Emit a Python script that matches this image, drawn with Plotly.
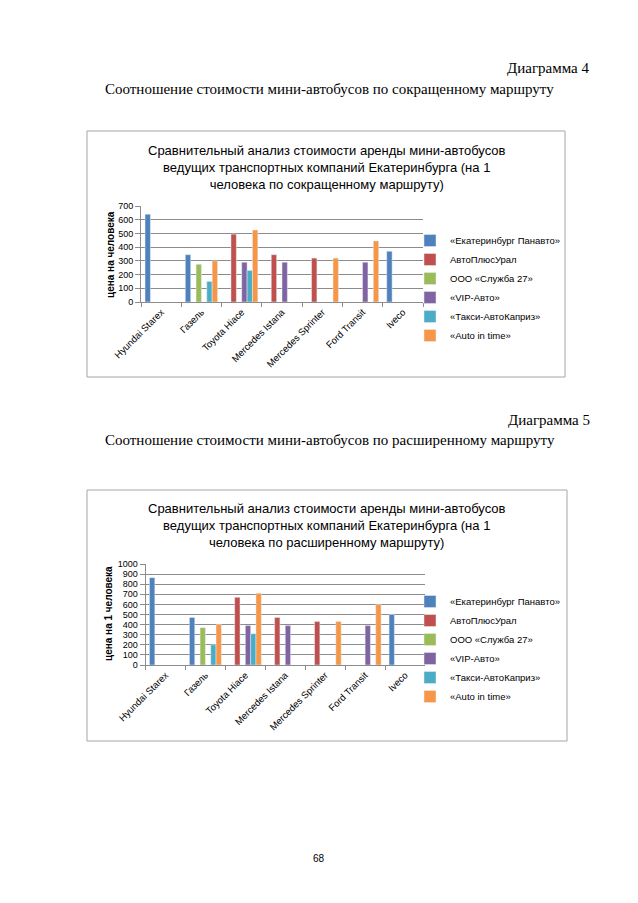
import plotly.graph_objects as go

# The page body has an 8px margin; the figure is sized so the page fits 638x903.
PAGE_W, PAGE_H = 638, 903
OFF = 8
W, H = PAGE_W - 2 * OFF, PAGE_H - 2 * OFF

categories = ["Hyundai Starex", "Газель", "Toyota Hiace", "Mercedes Istana",
              "Mercedes Sprinter", "Ford Transit", "Iveco"]
series_names = ["«Екатеринбург Панавто»", "АвтоПлюсУрал", "ООО «Служба 27»",
                "«VIP-Авто»", "«Такси-АвтоКаприз»", "«Auto in time»"]
colors = ["#4F81BD", "#C0504D", "#9BBB59", "#8064A2", "#4BACC6", "#F79646"]

# Diagram 4: short route
short_panavto = [640, 345, None, None, None, None, 370]
short_avtoplus = [None, None, 495, 345, 320, None, None]
short_sluzhba = [None, 275, None, None, None, None, None]
short_vip = [None, None, 290, 290, None, 290, None]
short_taxi = [None, 150, 230, None, None, None, None]
short_autointime = [None, 300, 525, None, 320, 445, None]

# Diagram 5: extended route
ext_panavto = [865, 470, None, None, None, None, 500]
ext_avtoplus = [None, None, 670, 470, 430, None, None]
ext_sluzhba = [None, 370, None, None, None, None, None]
ext_vip = [None, None, 390, 390, None, 390, None]
ext_taxi = [None, 200, 310, None, None, None, None]
ext_autointime = [None, 400, 710, None, 430, 600, None]

short_series = [short_panavto, short_avtoplus, short_sluzhba, short_vip, short_taxi, short_autointime]
ext_series = [ext_panavto, ext_avtoplus, ext_sluzhba, ext_vip, ext_taxi, ext_autointime]

SANS = "Liberation Sans"
SERIF = "Liberation Serif"


def px(x):
    return (x - OFF) / W


def py(y):
    return 1 - (y - OFF) / H


fig = go.Figure()
for i, name in enumerate(series_names):
    fig.add_trace(go.Bar(x=categories, y=short_series[i], name=name,
                         marker_color=colors[i], xaxis="x", yaxis="y",
                         legend="legend", hoverinfo="skip"))
for i, name in enumerate(series_names):
    fig.add_trace(go.Bar(x=categories, y=ext_series[i], name=name,
                         marker_color=colors[i], xaxis="x2", yaxis="y2",
                         legend="legend2", hoverinfo="skip"))

grid = "#8c8c8c"
axis_common_x = dict(type="category", showline=True, linecolor=grid, linewidth=1,
                     ticks="outside", ticklen=4, tickcolor=grid, tickson="boundaries",
                     tickangle=-45, tickfont=dict(family=SANS, size=9.5, color="#000"),
                     showgrid=False, zeroline=False, fixedrange=True, automargin=False)
axis_common_y = dict(showline=True, linecolor=grid, linewidth=1, ticks="outside",
                     ticklen=5, tickcolor=grid, showgrid=True, gridcolor=grid,
                     gridwidth=1, zeroline=False, automargin=False,
                     tickfont=dict(family=SANS, size=9, color="#000"), fixedrange=True)

fig.update_layout(
    width=W, height=H, margin=dict(l=0, r=0, t=0, b=0, pad=0, autoexpand=False),
    paper_bgcolor="white", plot_bgcolor="white",
    barmode="group", bargap=0.2, bargroupgap=0,
    xaxis=dict(domain=[px(141), px(423)], anchor="y", **axis_common_x),
    yaxis=dict(domain=[py(302), py(206)], anchor="x", range=[0, 700], dtick=100,
               **axis_common_y),
    xaxis2=dict(domain=[px(145.5), px(425)], anchor="y2", **axis_common_x),
    yaxis2=dict(domain=[py(665), py(564)], anchor="x2", range=[0, 1000], dtick=100,
                **axis_common_y),
    legend=dict(x=px(410), y=py(226), xanchor="left", yanchor="top",
                font=dict(family=SANS, size=9.5, color="#000"),
                bgcolor="rgba(0,0,0,0)", itemwidth=30, tracegroupgap=0),
    legend2=dict(x=px(410), y=py(587), xanchor="left", yanchor="top",
                 font=dict(family=SANS, size=9.5, color="#000"),
                 bgcolor="rgba(0,0,0,0)", itemwidth=30, tracegroupgap=0),
    showlegend=True,
)

# chart borders
fig.add_shape(type="rect", xref="paper", yref="paper", x0=px(87), x1=px(565),
              y0=py(377), y1=py(131), line=dict(color="#a6a6a6", width=1))
fig.add_shape(type="rect", xref="paper", yref="paper", x0=px(87), x1=px(567),
              y0=py(741), y1=py(490), line=dict(color="#a6a6a6", width=1))

title1 = ("Сравнительный анализ стоимости аренды мини-автобусов<br>"
          "ведущих транспортных компаний Екатеринбурга (на 1<br>"
          "человека по сокращенному маршруту)")
title2 = ("Сравнительный анализ стоимости аренды мини-автобусов<br>"
          "ведущих транспортных компаний Екатеринбурга (на 1<br>"
          "человека по расширенному маршруту)")

ann = []
ann.append(dict(text=title1, x=px(327), y=py(167), xref="paper", yref="paper",
                xanchor="center", yanchor="middle", showarrow=False,
                font=dict(family=SANS, size=13, color="#000")))
ann.append(dict(text=title2, x=px(327), y=py(525), xref="paper", yref="paper",
                xanchor="center", yanchor="middle", showarrow=False,
                font=dict(family=SANS, size=13, color="#000")))
ann.append(dict(text="<b>цена на человека</b>", x=px(110), y=py(255), xref="paper",
                yref="paper", xanchor="center", yanchor="middle", textangle=-90,
                showarrow=False, font=dict(family=SANS, size=10, color="#000")))
ann.append(dict(text="<b>цена на 1 человека</b>", x=px(108), y=py(614), xref="paper",
                yref="paper", xanchor="center", yanchor="middle", textangle=-90,
                showarrow=False, font=dict(family=SANS, size=10, color="#000")))
ann.append(dict(text="Диаграмма 4", x=px(592), y=py(68), xref="paper", yref="paper",
                xanchor="right", yanchor="middle", showarrow=False,
                font=dict(family=SERIF, size=15, color="#000")))
ann.append(dict(text="Соотношение стоимости мини-автобусов по сокращенному маршруту",
                x=px(103), y=py(89), xref="paper", yref="paper",
                xanchor="left", yanchor="middle", showarrow=False,
                font=dict(family=SERIF, size=15, color="#000")))
ann.append(dict(text="Диаграмма 5", x=px(592), y=py(420), xref="paper", yref="paper",
                xanchor="right", yanchor="middle", showarrow=False,
                font=dict(family=SERIF, size=15, color="#000")))
ann.append(dict(text="Соотношение стоимости мини-автобусов по расширенному маршруту",
                x=px(103), y=py(440), xref="paper", yref="paper",
                xanchor="left", yanchor="middle", showarrow=False,
                font=dict(family=SERIF, size=15, color="#000")))
ann.append(dict(text="68", x=px(319), y=py(858), xref="paper", yref="paper",
                xanchor="center", yanchor="middle", showarrow=False,
                font=dict(family=SANS, size=10, color="#000")))
fig.update_layout(annotations=ann)

fig.write_html("out.html")
